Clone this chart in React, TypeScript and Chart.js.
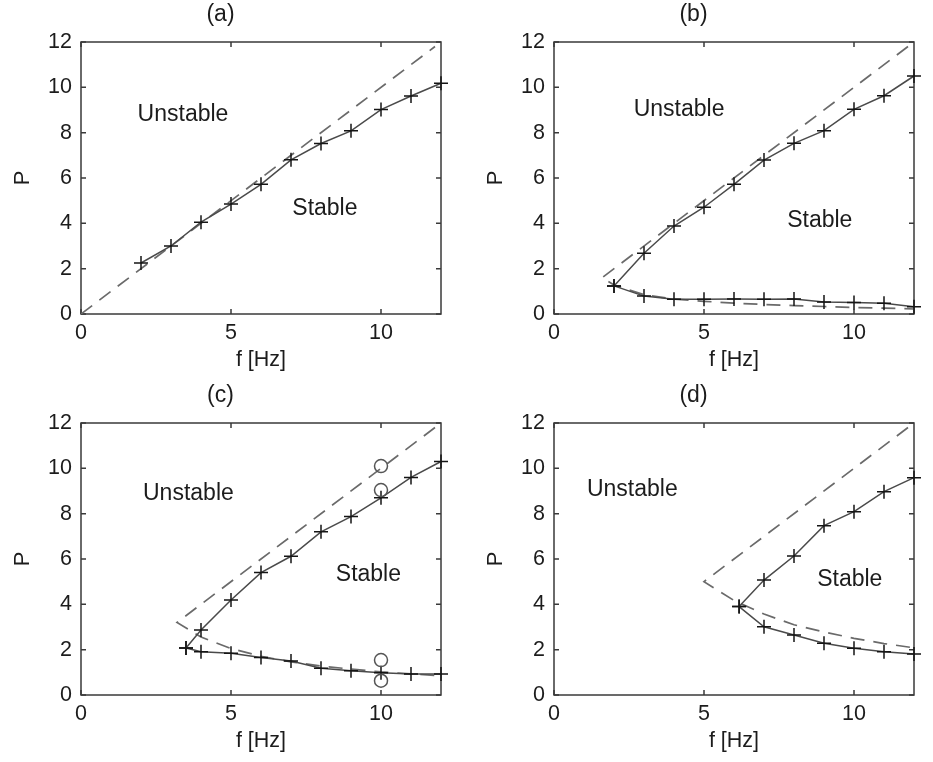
import React, { useEffect, useRef } from 'react';
import { Chart, registerables } from 'chart.js';

Chart.register(...registerables);

// ---------- tick values ----------
const X_TICK_STEP = 5;
const Y_TICK_STEP = 2;
const AXIS_MIN = 0;
const AXIS_MAX = 12;

// ---------- panel (a) ----------
const A_F = [2, 3, 4, 5, 6, 7, 8, 9, 10, 11, 12];
const A_P = [2.25, 3.0, 4.05, 4.85, 5.72, 6.8, 7.52, 8.08, 9.02, 9.62, 10.18];
const A_DASH_F = [0, 11.8];
const A_DASH_P = [0, 11.8];

// ---------- panel (b) ----------
const B_UP_F = [2, 3, 4, 5, 6, 7, 8, 9, 10, 11, 12];
const B_UP_P = [1.24, 2.68, 3.88, 4.71, 5.72, 6.79, 7.53, 8.09, 9.03, 9.63, 10.5];
const B_LO_F = [2, 3, 4, 5, 6, 7, 8, 9, 10, 11, 12];
const B_LO_P = [1.24, 0.79, 0.65, 0.65, 0.66, 0.65, 0.66, 0.53, 0.51, 0.47, 0.32];
const B_DASH_F = [11.8, 1.6, 2, 3, 4, 5, 6, 7, 8, 9, 10, 11, 12];
const B_DASH_P = [11.8, 1.6, 1.28, 0.85, 0.66, 0.56, 0.48, 0.42, 0.37, 0.33, 0.29, 0.26, 0.22];

// ---------- panel (c) ----------
const C_UP_F = [3.5, 4, 5, 6, 7, 8, 9, 10, 11, 12];
const C_UP_P = [2.07, 2.87, 4.19, 5.4, 6.12, 7.2, 7.87, 8.7, 9.6, 10.3];
const C_LO_F = [3.5, 4, 5, 6, 7, 8, 9, 10, 11, 12];
const C_LO_P = [2.07, 1.91, 1.84, 1.65, 1.5, 1.18, 1.07, 0.98, 0.93, 0.93];
const C_CIRCLE_F = [10, 10, 10, 10];
const C_CIRCLE_P = [10.1, 9.04, 1.54, 0.63];
const C_DASH_F = [11.8, 3.2, 4, 5, 6, 7, 8, 9, 10, 11, 12];
const C_DASH_P = [11.8, 3.2, 2.56, 2.05, 1.71, 1.46, 1.28, 1.14, 1.02, 0.93, 0.85];

// ---------- panel (d) ----------
const D_UP_F = [6.17, 7, 8, 9, 10, 11, 12];
const D_UP_P = [3.9, 5.07, 6.13, 7.47, 8.09, 8.97, 9.59];
const D_LO_F = [6.17, 7, 8, 9, 10, 11, 12];
const D_LO_P = [3.9, 3.01, 2.65, 2.28, 2.06, 1.91, 1.81];
const D_DASH_F = [11.8, 5, 6, 7, 8, 9, 10, 11, 12];
const D_DASH_P = [11.8, 5, 4.17, 3.57, 3.1, 2.78, 2.5, 2.27, 2.08];

// ---------- text ----------
const TITLES = ['(a)', '(b)', '(c)', '(d)'];
const X_TITLE = 'f [Hz]';
const Y_TITLE = 'P';
const UNSTABLE = 'Unstable';
const STABLE = 'Stable';
const UNSTABLE_POS = [[3.4, 8.8], [4.17, 9.0], [3.58, 8.9], [2.61, 9.04]];
const STABLE_POS = [[8.13, 4.63], [8.86, 4.12], [9.58, 5.29], [9.86, 5.1]];

// ---------- styles ----------
const FONT = "'Liberation Sans', Arial, Helvetica, sans-serif";
const TEXT_COLOR = '#1c1c1c';
const FRAME_COLOR = '#3a3a3a';
const LINE_COLOR = '#4a4a4a';
const DASH_COLOR = '#6a6a6a';
const MARK_COLOR = '#151515';
const CANVAS_W = 460;
const CANVAS_H = 381;

const pts = (f: number[], p: number[]) => f.map((x, i) => ({ x, y: p[i] }));

const dashed = (f: number[], p: number[]) => ({
  data: pts(f, p),
  showLine: true,
  borderColor: DASH_COLOR,
  borderWidth: 1.7,
  borderDash: [14, 9],
  pointRadius: 0,
  order: 3,
});

const marked = (f: number[], p: number[]) => ({
  data: pts(f, p),
  showLine: true,
  borderColor: LINE_COLOR,
  borderWidth: 1.5,
  pointStyle: 'cross',
  pointRadius: 7,
  pointBorderColor: MARK_COLOR,
  pointBorderWidth: 1.5,
  pointBackgroundColor: 'transparent',
  clip: false,
  order: 2,
});

const circles = (f: number[], p: number[]) => ({
  data: pts(f, p),
  showLine: false,
  pointStyle: 'circle',
  pointRadius: 6.5,
  pointBorderColor: '#555',
  pointBorderWidth: 1.5,
  pointBackgroundColor: 'transparent',
  clip: false,
  order: 1,
});

const frameTicks = {
  id: 'frameTicks',
  beforeDatasetsDraw(chart: any) {
    const { ctx, chartArea: a, scales } = chart;
    ctx.save();
    ctx.strokeStyle = FRAME_COLOR;
    ctx.lineWidth = 1.5;
    ctx.strokeRect(a.left, a.top, a.right - a.left, a.bottom - a.top);
    const L = 5;
    ctx.beginPath();
    scales.x.ticks.forEach((t: any) => {
      const px = scales.x.getPixelForValue(t.value);
      ctx.moveTo(px, a.bottom);
      ctx.lineTo(px, a.bottom - L);
      ctx.moveTo(px, a.top);
      ctx.lineTo(px, a.top + L);
    });
    scales.y.ticks.forEach((t: any) => {
      const py = scales.y.getPixelForValue(t.value);
      ctx.moveTo(a.left, py);
      ctx.lineTo(a.left + L, py);
      ctx.moveTo(a.right, py);
      ctx.lineTo(a.right - L, py);
    });
    ctx.stroke();
    ctx.restore();
  },
};

const regionLabels = {
  id: 'regionLabels',
  afterDatasetsDraw(chart: any, _args: any, opts: any) {
    const { ctx, scales } = chart;
    ctx.save();
    ctx.fillStyle = TEXT_COLOR;
    ctx.font = `23px ${FONT}`;
    ctx.textAlign = 'center';
    ctx.textBaseline = 'middle';
    (opts.items || []).forEach((it: any) => {
      ctx.fillText(it.text, scales.x.getPixelForValue(it.x), scales.y.getPixelForValue(it.y));
    });
    ctx.restore();
  },
};

function buildConfig(idx: number, datasets: any[]) {
  const tickFont = { family: FONT, size: 21.5 };
  return {
    type: 'scatter',
    data: { datasets },
    plugins: [frameTicks, regionLabels],
    options: {
      animation: false,
      responsive: false,
      events: [],
      layout: { padding: { left: 0, right: 19, top: 0, bottom: 0 } },
      plugins: {
        legend: { display: false },
        tooltip: { enabled: false },
        title: {
          display: true,
          text: TITLES[idx],
          color: TEXT_COLOR,
          font: { family: FONT, size: 23, weight: 'normal' },
          padding: { top: 1, bottom: 13.4 },
        },
        regionLabels: {
          items: [
            { text: UNSTABLE, x: UNSTABLE_POS[idx][0], y: UNSTABLE_POS[idx][1] },
            { text: STABLE, x: STABLE_POS[idx][0], y: STABLE_POS[idx][1] },
          ],
        },
      },
      scales: {
        x: {
          type: 'linear',
          min: AXIS_MIN,
          max: AXIS_MAX,
          grid: { display: false, drawTicks: false },
          border: { display: false },
          ticks: {
            stepSize: X_TICK_STEP,
            includeBounds: false,
            maxRotation: 0,
            padding: 6,
            color: TEXT_COLOR,
            font: tickFont,
          },
          title: {
            display: true,
            text: X_TITLE,
            color: TEXT_COLOR,
            font: tickFont,
            padding: { top: 0, bottom: 8 },
          },
          afterFit: (s: any) => {
            s.height = 67;
          },
        },
        y: {
          type: 'linear',
          min: AXIS_MIN,
          max: AXIS_MAX,
          grid: { display: false, drawTicks: false },
          border: { display: false },
          ticks: {
            stepSize: Y_TICK_STEP,
            padding: 9,
            color: TEXT_COLOR,
            font: tickFont,
          },
          title: {
            display: true,
            text: Y_TITLE,
            color: TEXT_COLOR,
            font: { family: FONT, size: 22 },
            padding: { top: 10, bottom: 0 },
          },
          afterFit: (s: any) => {
            s.width = 81;
          },
        },
      },
    },
  };
}

const PANELS = [
  { left: 0, top: 0, datasets: () => [dashed(A_DASH_F, A_DASH_P), marked(A_F, A_P)] },
  {
    left: 473,
    top: 0,
    datasets: () => [dashed(B_DASH_F, B_DASH_P), marked(B_UP_F, B_UP_P), marked(B_LO_F, B_LO_P)],
  },
  {
    left: 0,
    top: 381,
    datasets: () => [
      dashed(C_DASH_F, C_DASH_P),
      marked(C_UP_F, C_UP_P),
      marked(C_LO_F, C_LO_P),
      circles(C_CIRCLE_F, C_CIRCLE_P),
    ],
  },
  {
    left: 473,
    top: 381,
    datasets: () => [dashed(D_DASH_F, D_DASH_P), marked(D_UP_F, D_UP_P), marked(D_LO_F, D_LO_P)],
  },
];

function Panel({ idx }: { idx: number }) {
  const ref = useRef<HTMLCanvasElement | null>(null);
  const spec = PANELS[idx];
  useEffect(() => {
    if (!ref.current) return;
    const chart = new Chart(ref.current, buildConfig(idx, spec.datasets()) as any);
    return () => chart.destroy();
  }, [idx]);
  return (
    <canvas
      ref={ref}
      width={CANVAS_W}
      height={CANVAS_H}
      style={{ position: 'absolute', left: spec.left, top: spec.top, width: CANVAS_W, height: CANVAS_H }}
    />
  );
}

export default function App() {
  return (
    <div
      style={{
        position: 'absolute',
        left: 0,
        top: 0,
        width: 933,
        height: 762,
        background: '#fff',
        overflow: 'hidden',
      }}
    >
      {PANELS.map((_, i) => (
        <Panel key={i} idx={i} />
      ))}
    </div>
  );
}
